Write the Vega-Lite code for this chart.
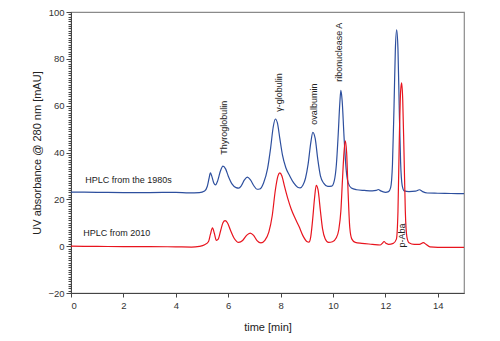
{
  "$schema": "https://vega.github.io/schema/vega-lite/v6.json",
  "width": 393,
  "height": 281,
  "autosize": {"type": "none"},
  "padding": {"left": 71, "top": 12, "right": 36, "bottom": 48},
  "background": "white",
  "config": {
    "view": {"stroke": "#8a8a8a", "strokeWidth": 1.2},
    "font": "Liberation Sans",
    "axis": {"labelFont": "Liberation Sans", "titleFont": "Liberation Sans", "labelColor": "#333333", "titleColor": "#222222", "titleFontWeight": "normal", "grid": false, "domainColor": "#444444", "tickColor": "#444444"}
  },
  "datasets": {
    "curves": [
      {"series": "1980s", "t": 0, "v": 23.1}, {"series": "1980s", "t": 1, "v": 23.0}, {"series": "1980s", "t": 2, "v": 22.9}, {"series": "1980s", "t": 3, "v": 22.9}, {"series": "1980s", "t": 4, "v": 23.0}, {"series": "1980s", "t": 4.5, "v": 22.8}, {"series": "1980s", "t": 4.9, "v": 22.9}, {"series": "1980s", "t": 5.1, "v": 23.6}, {"series": "1980s", "t": 5.2, "v": 25.5}, {"series": "1980s", "t": 5.27, "v": 29}, {"series": "1980s", "t": 5.32, "v": 31.3}, {"series": "1980s", "t": 5.37, "v": 30}, {"series": "1980s", "t": 5.45, "v": 27}, {"series": "1980s", "t": 5.52, "v": 26.2}, {"series": "1980s", "t": 5.6, "v": 28}, {"series": "1980s", "t": 5.7, "v": 32}, {"series": "1980s", "t": 5.8, "v": 34.2}, {"series": "1980s", "t": 5.9, "v": 33}, {"series": "1980s", "t": 6.0, "v": 30}, {"series": "1980s", "t": 6.15, "v": 26.5}, {"series": "1980s", "t": 6.3, "v": 25}, {"series": "1980s", "t": 6.4, "v": 24.8}, {"series": "1980s", "t": 6.5, "v": 25.8}, {"series": "1980s", "t": 6.62, "v": 28.3}, {"series": "1980s", "t": 6.73, "v": 29.5}, {"series": "1980s", "t": 6.85, "v": 28.3}, {"series": "1980s", "t": 6.98, "v": 25.8}, {"series": "1980s", "t": 7.1, "v": 24.3}, {"series": "1980s", "t": 7.2, "v": 24.4}, {"series": "1980s", "t": 7.35, "v": 27}, {"series": "1980s", "t": 7.5, "v": 33}, {"series": "1980s", "t": 7.62, "v": 42}, {"series": "1980s", "t": 7.72, "v": 51}, {"series": "1980s", "t": 7.8, "v": 54.3}, {"series": "1980s", "t": 7.88, "v": 52.5}, {"series": "1980s", "t": 7.97, "v": 46}, {"series": "1980s", "t": 8.07, "v": 39}, {"series": "1980s", "t": 8.2, "v": 33.5}, {"series": "1980s", "t": 8.35, "v": 30}, {"series": "1980s", "t": 8.5, "v": 27}, {"series": "1980s", "t": 8.65, "v": 25.2}, {"series": "1980s", "t": 8.75, "v": 24.9}, {"series": "1980s", "t": 8.85, "v": 26}, {"series": "1980s", "t": 8.95, "v": 29}, {"series": "1980s", "t": 9.05, "v": 35}, {"series": "1980s", "t": 9.15, "v": 44}, {"series": "1980s", "t": 9.23, "v": 48.6}, {"series": "1980s", "t": 9.32, "v": 46}, {"series": "1980s", "t": 9.42, "v": 37}, {"series": "1980s", "t": 9.52, "v": 30}, {"series": "1980s", "t": 9.65, "v": 26.8}, {"series": "1980s", "t": 9.8, "v": 25.5}, {"series": "1980s", "t": 9.95, "v": 25.6}, {"series": "1980s", "t": 10.05, "v": 28}, {"series": "1980s", "t": 10.13, "v": 35}, {"series": "1980s", "t": 10.2, "v": 48}, {"series": "1980s", "t": 10.26, "v": 61}, {"series": "1980s", "t": 10.3, "v": 66.5}, {"series": "1980s", "t": 10.35, "v": 62}, {"series": "1980s", "t": 10.42, "v": 47}, {"series": "1980s", "t": 10.5, "v": 33}, {"series": "1980s", "t": 10.58, "v": 27}, {"series": "1980s", "t": 10.7, "v": 24.8}, {"series": "1980s", "t": 10.9, "v": 24.1}, {"series": "1980s", "t": 11.2, "v": 23.8}, {"series": "1980s", "t": 11.5, "v": 23.6}, {"series": "1980s", "t": 11.65, "v": 23.8}, {"series": "1980s", "t": 11.73, "v": 24.2}, {"series": "1980s", "t": 11.82, "v": 23.6}, {"series": "1980s", "t": 12.0, "v": 23.0}, {"series": "1980s", "t": 12.12, "v": 23.3}, {"series": "1980s", "t": 12.2, "v": 25}, {"series": "1980s", "t": 12.27, "v": 35}, {"series": "1980s", "t": 12.33, "v": 60}, {"series": "1980s", "t": 12.38, "v": 84}, {"series": "1980s", "t": 12.43, "v": 92.4}, {"series": "1980s", "t": 12.48, "v": 84}, {"series": "1980s", "t": 12.53, "v": 58}, {"series": "1980s", "t": 12.58, "v": 36}, {"series": "1980s", "t": 12.64, "v": 26}, {"series": "1980s", "t": 12.72, "v": 23.6}, {"series": "1980s", "t": 12.9, "v": 23.3}, {"series": "1980s", "t": 13.15, "v": 23.5}, {"series": "1980s", "t": 13.3, "v": 24.1}, {"series": "1980s", "t": 13.42, "v": 23.3}, {"series": "1980s", "t": 13.6, "v": 22.7}, {"series": "1980s", "t": 14.0, "v": 22.6}, {"series": "1980s", "t": 14.5, "v": 22.5}, {"series": "1980s", "t": 15.0, "v": 22.4},
      {"series": "2010", "t": 0, "v": 0}, {"series": "2010", "t": 1, "v": -0.1}, {"series": "2010", "t": 2, "v": -0.2}, {"series": "2010", "t": 3, "v": -0.2}, {"series": "2010", "t": 4, "v": -0.3}, {"series": "2010", "t": 4.6, "v": -0.4}, {"series": "2010", "t": 4.9, "v": -0.1}, {"series": "2010", "t": 5.1, "v": 0.6}, {"series": "2010", "t": 5.25, "v": 2}, {"series": "2010", "t": 5.32, "v": 5}, {"series": "2010", "t": 5.4, "v": 7.8}, {"series": "2010", "t": 5.47, "v": 5.5}, {"series": "2010", "t": 5.55, "v": 2.5}, {"series": "2010", "t": 5.62, "v": 3}, {"series": "2010", "t": 5.72, "v": 7}, {"series": "2010", "t": 5.8, "v": 10}, {"series": "2010", "t": 5.88, "v": 10.9}, {"series": "2010", "t": 5.97, "v": 10}, {"series": "2010", "t": 6.08, "v": 7}, {"series": "2010", "t": 6.22, "v": 3.5}, {"series": "2010", "t": 6.4, "v": 1.6}, {"series": "2010", "t": 6.55, "v": 2.4}, {"series": "2010", "t": 6.7, "v": 4.6}, {"series": "2010", "t": 6.84, "v": 5.6}, {"series": "2010", "t": 6.97, "v": 4.6}, {"series": "2010", "t": 7.1, "v": 2.4}, {"series": "2010", "t": 7.25, "v": 1.4}, {"series": "2010", "t": 7.4, "v": 2.5}, {"series": "2010", "t": 7.55, "v": 6}, {"series": "2010", "t": 7.68, "v": 13}, {"series": "2010", "t": 7.8, "v": 24}, {"series": "2010", "t": 7.9, "v": 30}, {"series": "2010", "t": 7.97, "v": 31.3}, {"series": "2010", "t": 8.05, "v": 30}, {"series": "2010", "t": 8.15, "v": 25.5}, {"series": "2010", "t": 8.27, "v": 20.5}, {"series": "2010", "t": 8.4, "v": 16}, {"series": "2010", "t": 8.55, "v": 12}, {"series": "2010", "t": 8.7, "v": 8.5}, {"series": "2010", "t": 8.85, "v": 4.5}, {"series": "2010", "t": 9.0, "v": 2}, {"series": "2010", "t": 9.08, "v": 1.7}, {"series": "2010", "t": 9.15, "v": 4}, {"series": "2010", "t": 9.22, "v": 11}, {"series": "2010", "t": 9.3, "v": 21}, {"series": "2010", "t": 9.36, "v": 26}, {"series": "2010", "t": 9.43, "v": 24}, {"series": "2010", "t": 9.52, "v": 15}, {"series": "2010", "t": 9.6, "v": 7.5}, {"series": "2010", "t": 9.7, "v": 3.2}, {"series": "2010", "t": 9.83, "v": 1.6}, {"series": "2010", "t": 9.98, "v": 1.9}, {"series": "2010", "t": 10.12, "v": 3.5}, {"series": "2010", "t": 10.22, "v": 7}, {"series": "2010", "t": 10.3, "v": 15}, {"series": "2010", "t": 10.36, "v": 28}, {"series": "2010", "t": 10.42, "v": 40}, {"series": "2010", "t": 10.47, "v": 45}, {"series": "2010", "t": 10.52, "v": 40}, {"series": "2010", "t": 10.58, "v": 22}, {"series": "2010", "t": 10.64, "v": 8}, {"series": "2010", "t": 10.72, "v": 3}, {"series": "2010", "t": 10.85, "v": 1.6}, {"series": "2010", "t": 11.1, "v": 1.2}, {"series": "2010", "t": 11.5, "v": 0.8}, {"series": "2010", "t": 11.8, "v": 0.5}, {"series": "2010", "t": 11.88, "v": 1.2}, {"series": "2010", "t": 11.95, "v": 2}, {"series": "2010", "t": 12.02, "v": 1.2}, {"series": "2010", "t": 12.12, "v": 0.8}, {"series": "2010", "t": 12.3, "v": 1.2}, {"series": "2010", "t": 12.42, "v": 3}, {"series": "2010", "t": 12.48, "v": 15}, {"series": "2010", "t": 12.53, "v": 45}, {"series": "2010", "t": 12.58, "v": 66}, {"series": "2010", "t": 12.62, "v": 69.7}, {"series": "2010", "t": 12.66, "v": 63}, {"series": "2010", "t": 12.71, "v": 40}, {"series": "2010", "t": 12.76, "v": 15}, {"series": "2010", "t": 12.82, "v": 4}, {"series": "2010", "t": 12.9, "v": 1.5}, {"series": "2010", "t": 13.1, "v": 0.8}, {"series": "2010", "t": 13.3, "v": 0.8}, {"series": "2010", "t": 13.45, "v": 1.5}, {"series": "2010", "t": 13.55, "v": 0.8}, {"series": "2010", "t": 13.7, "v": -0.3}, {"series": "2010", "t": 14.0, "v": -0.5}, {"series": "2010", "t": 14.5, "v": -0.5}, {"series": "2010", "t": 15.0, "v": -0.5}
    ],
    "peaks": [
      {"label": "Thyroglobulin", "t": 5.84, "v": 39},
      {"label": "γ-globulin", "t": 7.92, "v": 57.4},
      {"label": "ovalbumin", "t": 9.26, "v": 51.9},
      {"label": "ribonuclease A", "t": 10.23, "v": 70.2},
      {"label": "p-Aba", "t": 12.64, "v": -0.6}
    ],
    "series_labels": [
      {"label": "HPLC from the 1980s", "t": 0.54, "v": 28.4},
      {"label": "HPLC from 2010", "t": 0.47, "v": 5.6}
    ]
  },
  "layer": [
    {
      "data": {"name": "curves"},
      "mark": {"type": "line", "interpolate": "monotone", "strokeWidth": 1.2},
      "encoding": {
        "x": {"field": "t", "type": "quantitative", "scale": {"domain": [0, 15], "nice": false}, "axis": {"values": [0, 2, 4, 6, 8, 10, 12, 14], "title": "time [min]", "titleFontSize": 11, "titlePadding": 12, "labelFontSize": 9.5, "tickSize": 4, "labelPadding": 3, "domainColor": "#444444"}},
        "y": {"field": "v", "type": "quantitative", "scale": {"domain": [-20, 100], "nice": false}, "axis": {"tickCount": 120, "labelExpr": "datum.value % 20 === 0 ? datum.label : ''", "labelOverlap": false, "labelFontSize": 9.5, "labelPadding": 2, "tickSize": {"condition": {"test": "datum.value % 20 === 0", "value": 5}, "value": 3}, "title": "UV absorbance @ 280 nm [mAU]", "titleFontSize": 11, "titlePadding": 5}},
        "color": {"field": "series", "type": "nominal", "scale": {"domain": ["1980s", "2010"], "range": ["#2d4f9e", "#e8141e"]}, "legend": null},
        "strokeWidth": {"field": "series", "type": "nominal", "scale": {"domain": ["1980s", "2010"], "range": [1.0, 1.4]}, "legend": null}
      }
    },
    {
      "data": {"name": "peaks"},
      "mark": {"type": "text", "angle": 270, "align": "left", "baseline": "middle", "fontSize": 9, "font": "Liberation Sans", "color": "#222222"},
      "encoding": {
        "x": {"field": "t", "type": "quantitative"},
        "y": {"field": "v", "type": "quantitative"},
        "text": {"field": "label"}
      }
    },
    {
      "data": {"name": "series_labels"},
      "mark": {"type": "text", "align": "left", "baseline": "middle", "fontSize": 9, "font": "Liberation Sans", "color": "#222222"},
      "encoding": {
        "x": {"field": "t", "type": "quantitative"},
        "y": {"field": "v", "type": "quantitative"},
        "text": {"field": "label"}
      }
    }
  ]
}
